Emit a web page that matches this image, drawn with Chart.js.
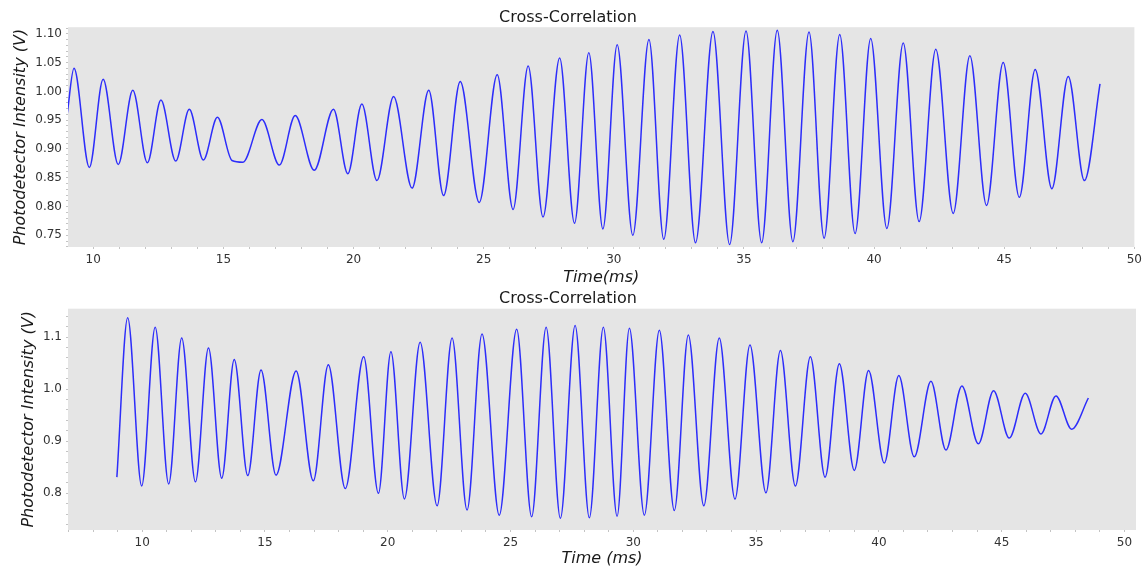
<!DOCTYPE html>
<html>
<head>
<meta charset="utf-8">
<script src="https://cdn.jsdelivr.net/npm/chart.js@4.4.1/dist/chart.umd.min.js"></script>
<style>
  html, body { margin: 0; padding: 0; background: #ffffff; width: 1146px; height: 569px; overflow: hidden; }
  canvas { position: absolute; left: 0; }
  #upper { top: 0; }
  #lower { top: 283px; }
</style>
</head>
<body>
<canvas id="upper" width="1146" height="290"></canvas>
<canvas id="lower" width="1146" height="286"></canvas>
<script>
// Upper trace: turning points of the measured cross-correlation (time in ms, intensity in V)
const upperTime = [9.00, 9.26, 9.85, 10.38, 10.96, 11.52, 12.08, 12.60, 13.17, 13.69, 14.23, 14.77,
  15.33, 15.75, 16.48, 17.15, 17.76, 18.49, 19.23, 19.78, 20.32, 20.90, 21.54, 22.25, 22.89, 23.46,
  24.10, 24.83, 25.52, 26.13, 26.71, 27.28, 27.92, 28.49, 29.04, 29.58, 30.13, 30.73, 31.35, 31.92,
  32.53, 33.14, 33.81, 34.45, 35.08, 35.68, 36.28, 36.88, 37.50, 38.08, 38.68, 39.27, 39.87, 40.49,
  41.12, 41.73, 42.37, 43.04, 43.68, 44.32, 44.96, 45.58, 46.19, 46.83, 47.46, 48.08, 48.68];
const upperIntensity = [0.961, 1.040, 0.868, 1.021, 0.873, 1.002, 0.876, 0.985, 0.879, 0.969, 0.881, 0.955,
  0.880, 0.877, 0.951, 0.872, 0.958, 0.863, 0.969, 0.857, 0.978, 0.845, 0.991, 0.832, 1.002, 0.819,
  1.017, 0.807, 1.029, 0.795, 1.044, 0.782, 1.058, 0.771, 1.067, 0.761, 1.081, 0.750, 1.090, 0.743,
  1.098, 0.737, 1.104, 0.734, 1.105, 0.737, 1.106, 0.739, 1.103, 0.745, 1.099, 0.753, 1.092, 0.762,
  1.084, 0.774, 1.073, 0.788, 1.062, 0.802, 1.050, 0.816, 1.038, 0.831, 1.026, 0.845, 1.013];

// Lower trace: turning points of the second cross-correlation run
const lowerTime = [8.97, 9.41, 9.98, 10.53, 11.08, 11.61, 12.17, 12.70, 13.24, 13.75, 14.30, 14.84,
  15.45, 16.27, 16.97, 17.58, 18.27, 19.02, 19.62, 20.13, 20.68, 21.32, 22.01, 22.62, 23.23, 23.84,
  24.54, 25.25, 25.86, 26.45, 27.03, 27.63, 28.21, 28.78, 29.34, 29.84, 30.45, 31.06, 31.67, 32.24,
  32.87, 33.50, 34.14, 34.75, 35.40, 35.99, 36.60, 37.21, 37.81, 38.39, 39.00, 39.58, 40.22, 40.81,
  41.44, 42.12, 42.73, 43.38, 44.05, 44.67, 45.31, 45.96, 46.60, 47.21, 47.85, 48.53];
const lowerIntensity = [0.831, 1.137, 0.814, 1.119, 0.818, 1.098, 0.822, 1.079, 0.829, 1.057, 0.834, 1.037,
  0.835, 1.035, 0.824, 1.047, 0.809, 1.062, 0.800, 1.072, 0.789, 1.090, 0.776, 1.098, 0.768, 1.106,
  0.758, 1.115, 0.755, 1.119, 0.752, 1.122, 0.753, 1.119, 0.756, 1.117, 0.758, 1.113, 0.767, 1.104,
  0.776, 1.098, 0.789, 1.085, 0.801, 1.074, 0.814, 1.062, 0.831, 1.049, 0.844, 1.036, 0.858, 1.026,
  0.870, 1.015, 0.883, 1.006, 0.895, 0.997, 0.906, 0.992, 0.914, 0.987, 0.923, 0.983];

// Axis ranges and tick spacing (minor step, labelled step)
const upperXRange = [9.03, 50.0];
const upperYRange = [0.7297, 1.1115];
const lowerXRange = [6.98, 50.47];
const lowerYRange = [0.7295, 1.1545];
const xTickStep = 1, xLabelStep = 5;
const upperYTickStep = 0.01, upperYLabelStep = 0.05;
const lowerYTickStep = 0.02, lowerYLabelStep = 0.1;

const FONT = "'DejaVu Sans', 'Liberation Sans', sans-serif";
const PANEL_BG = '#e5e5e5';
const TRACE = 'rgb(45, 45, 250)';

const panelBackground = {
  id: 'panelBackground',
  beforeDatasetsDraw(chart) {
    const a = chart.chartArea, ctx = chart.ctx;
    ctx.save();
    ctx.fillStyle = PANEL_BG;
    ctx.fillRect(a.left, a.top, a.right - a.left, a.bottom - a.top);
    ctx.restore();
  }
};

function onStep(v, step) {
  const k = v / step;
  return Math.abs(k - Math.round(k)) < 1e-6;
}

function buildPanel(canvasId, opt) {
  const canvas = document.getElementById(canvasId);
  const points = opt.time.map((t, i) => ({ x: t, y: opt.values[i] }));
  return new Chart(canvas, {
    type: 'line',
    data: {
      datasets: [{
        data: points,
        borderColor: TRACE,
        borderWidth: 1.5,
        pointRadius: 0,
        fill: false,
        cubicInterpolationMode: 'monotone'
      }]
    },
    plugins: [panelBackground],
    options: {
      responsive: false,
      animation: false,
      devicePixelRatio: 1,
      layout: { padding: { left: 0, right: 10, top: 0, bottom: 0 } },
      plugins: {
        legend: { display: false },
        tooltip: { enabled: false },
        title: {
          display: true,
          text: 'Cross-Correlation',
          color: '#1a1a1a',
          font: { family: FONT, size: 16, weight: 'normal' },
          padding: opt.titlePad
        }
      },
      scales: {
        x: {
          type: 'linear',
          min: opt.xRange[0],
          max: opt.xRange[1],
          afterFit(s) { s.height = opt.xAxisHeight; },
          afterBuildTicks(s) { s.ticks = s.ticks.filter(t => onStep(t.value, xTickStep)); },
          border: { display: false },
          grid: { drawOnChartArea: false, drawTicks: true, tickLength: 2, tickColor: '#c4c4c4', lineWidth: 1 },
          ticks: {
            stepSize: xTickStep,
            includeBounds: false,
            autoSkip: false,
            maxRotation: 0,
            padding: opt.xTickPad,
            color: '#333333',
            font: { family: FONT, size: 12 },
            callback: v => onStep(v, xLabelStep) ? String(Math.round(v)) : ''
          },
          title: {
            display: true,
            text: opt.xTitle,
            color: '#1a1a1a',
            font: { family: FONT, size: 16, style: 'italic' },
            padding: { top: 0, bottom: opt.xTitlePad }
          }
        },
        y: {
          type: 'linear',
          min: opt.yRange[0],
          max: opt.yRange[1],
          afterFit(s) { s.width = 68; },
          afterBuildTicks(s) { s.ticks = s.ticks.filter(t => onStep(t.value, opt.yTickStep)); },
          border: { display: false },
          grid: { drawOnChartArea: false, drawTicks: true, tickLength: 2, tickColor: '#c4c4c4', lineWidth: 1 },
          ticks: {
            stepSize: opt.yTickStep,
            includeBounds: false,
            autoSkip: false,
            padding: opt.yTickPad,
            color: '#333333',
            font: { family: FONT, size: 12 },
            callback: v => onStep(v, opt.yLabelStep) ? v.toFixed(opt.decimals) : ''
          },
          title: {
            display: true,
            text: 'Photodetector Intensity (V)',
            color: '#1a1a1a',
            font: { family: FONT, size: 16, style: 'italic' },
            padding: { top: opt.yTitlePad, bottom: 0 }
          }
        }
      }
    }
  });
}

buildPanel('upper', {
  time: upperTime, values: upperIntensity,
  xRange: upperXRange, yRange: upperYRange,
  yTickStep: upperYTickStep, yLabelStep: upperYLabelStep, decimals: 2,
  xTitle: 'Time(ms)',
  titlePad: { top: 8, bottom: 0 },
  xAxisHeight: 43, xTickPad: 4, xTitlePad: 3,
  yTickPad: 4, yTitlePad: 11
});

buildPanel('lower', {
  time: lowerTime, values: lowerIntensity,
  xRange: lowerXRange, yRange: lowerYRange,
  yTickStep: lowerYTickStep, yLabelStep: lowerYLabelStep, decimals: 1,
  xTitle: 'Time (ms)',
  titlePad: { top: 6.5, bottom: 0 },
  xAxisHeight: 39, xTickPad: 4, xTitlePad: 1,
  yTickPad: 4, yTitlePad: 19
});
</script>
</body>
</html>
